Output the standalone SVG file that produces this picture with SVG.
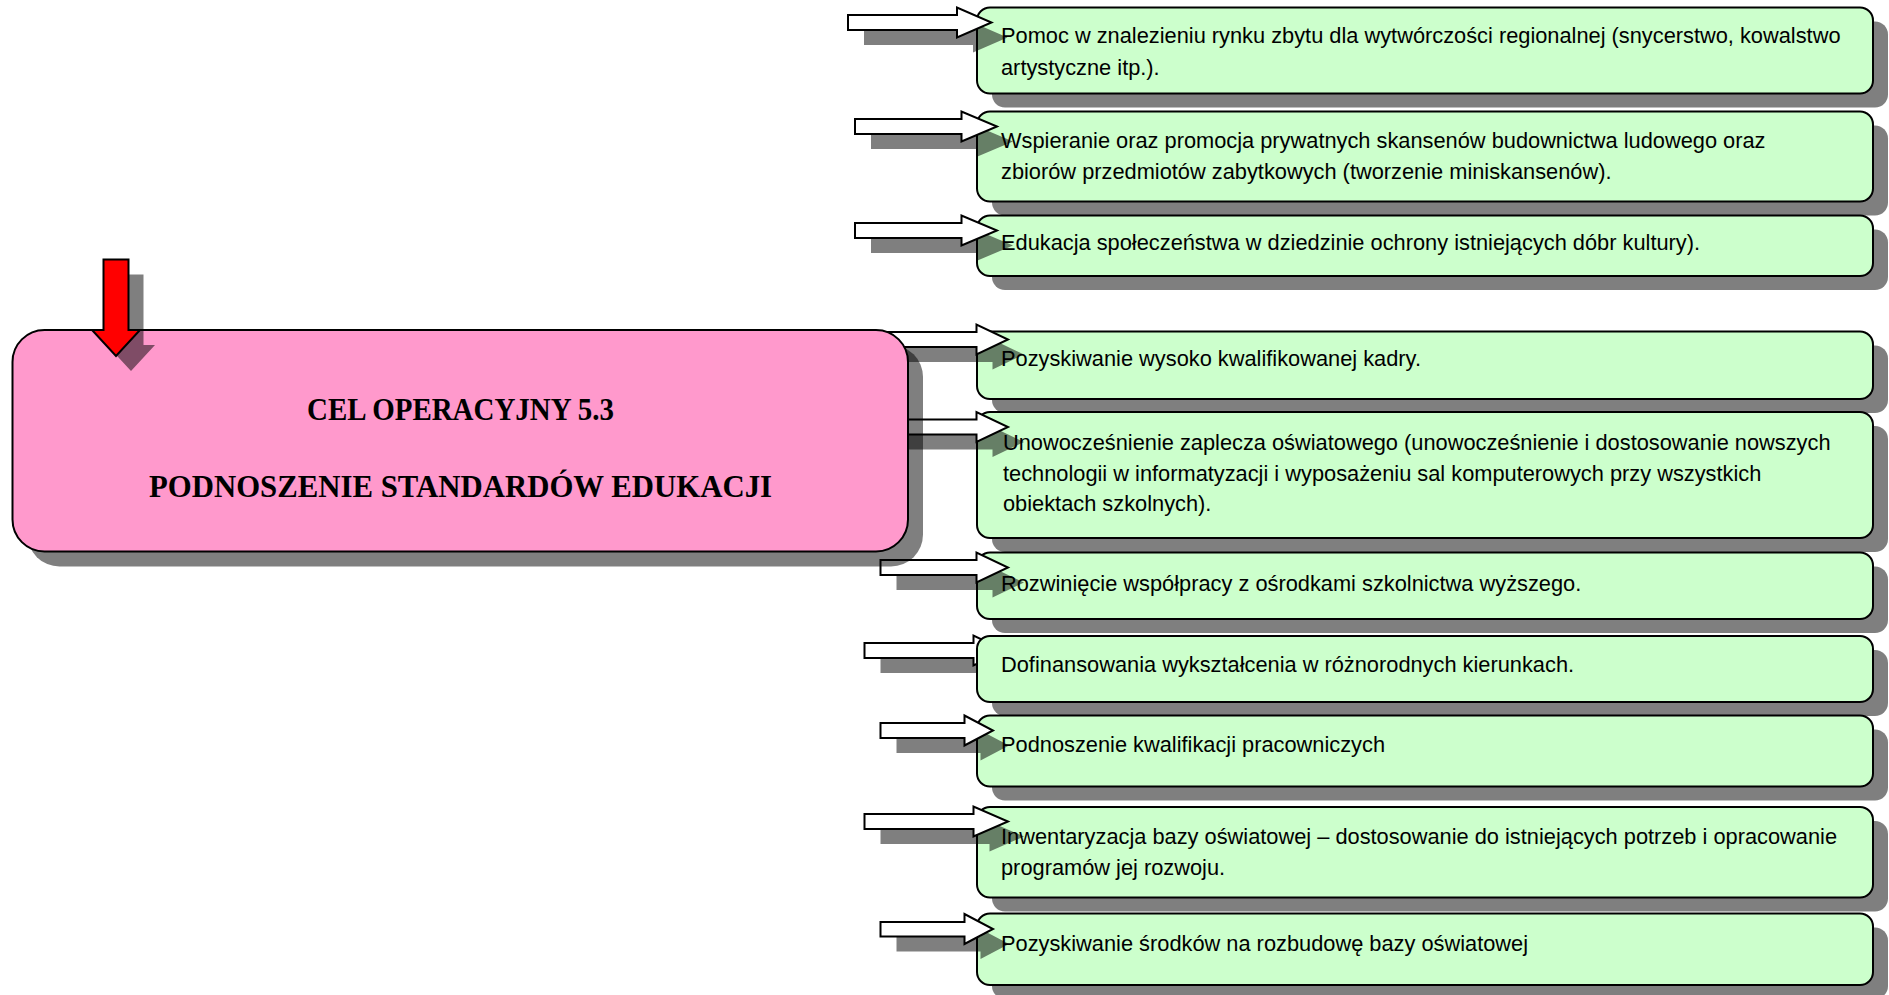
<svg xmlns="http://www.w3.org/2000/svg" xmlns:xlink="http://www.w3.org/1999/xlink" width="1889" height="995" viewBox="0 0 1889 995">
<style>
.sh{fill:#000;fill-opacity:0.5;stroke:none}
.gbox{fill:#CCFFCC;stroke:#000;stroke-width:2}
.pbox{fill:#FF99CC;stroke:#000;stroke-width:2}
.arrow{fill:#FFFFFF;stroke:#000;stroke-width:2;stroke-linejoin:miter}
.red{fill:#FF0000;stroke:#000;stroke-width:2}
.t{font-family:"Liberation Sans",Arial,sans-serif;font-size:21.8px;fill:#000}
.pt{font-family:"Liberation Serif","Times New Roman",serif;font-size:30.5px;font-weight:bold;fill:#000;text-anchor:middle}
</style>
<defs>
<polygon id="p1" points="848,15 957,15 957,7.5 991.5,22.5 957,37.5 957,30 848,30"/>
<polygon id="p2" points="855,119 961.5,119 961.5,111.5 997,126.5 961.5,141.5 961.5,134 855,134"/>
<polygon id="p3" points="855,223 961.5,223 961.5,215.5 997,230.5 961.5,245.5 961.5,238 855,238"/>
<polygon id="p4" points="870,332 976.5,332 976.5,324.5 1008,339.5 976.5,354.5 976.5,347 870,347"/>
<polygon id="p5" points="870,419.5 976.5,419.5 976.5,412 1008,427 976.5,442 976.5,434.5 870,434.5"/>
<polygon id="p6" points="880.5,560 976.5,560 976.5,552.5 1008,567.5 976.5,582.5 976.5,575 880.5,575"/>
<polygon id="p7" points="864.5,643 973.5,643 973.5,635.5 1005,650.5 973.5,665.5 973.5,658 864.5,658"/>
<polygon id="p8" points="880.5,723 964.5,723 964.5,715.5 993,730.5 964.5,745.5 964.5,738 880.5,738"/>
<polygon id="p9" points="864.5,814 973.5,814 973.5,806.5 1008,821.5 973.5,836.5 973.5,829 864.5,829"/>
<polygon id="p10" points="880.5,922 964.5,922 964.5,914 993,929 964.5,944 964.5,936.5 880.5,936.5"/>
</defs>

<g id="n1">
<rect class="sh" x="992" y="21.5" width="896" height="86" rx="13"/>
<rect class="gbox" x="977" y="7.5" width="896" height="86" rx="13"/>
<text class="t" x="1001" y="43">Pomoc w znalezieniu rynku zbytu dla wytwórczości regionalnej (snycerstwo, kowalstwo</text>
<text class="t" x="1001" y="74.5">artystyczne itp.).</text>
</g>
<g id="n2">
<rect class="sh" x="992" y="125.5" width="896" height="90" rx="13"/>
<rect class="gbox" x="977" y="111.5" width="896" height="90" rx="13"/>
<text class="t" x="1001" y="148">Wspieranie oraz promocja prywatnych skansenów budownictwa ludowego oraz</text>
<text class="t" x="1001" y="178.5">zbiorów przedmiotów zabytkowych (tworzenie miniskansenów).</text>
</g>
<g id="n3">
<rect class="sh" x="992" y="229.5" width="896" height="60.5" rx="13"/>
<rect class="gbox" x="977" y="215.5" width="896" height="60.5" rx="13"/>
<text class="t" x="1001" y="250">Edukacja społeczeństwa w dziedzinie ochrony istniejących dóbr kultury).</text>
</g>
<g id="n4">
<rect class="sh" x="992" y="345.5" width="896" height="67.5" rx="13"/>
<rect class="gbox" x="977" y="331.5" width="896" height="67.5" rx="13"/>
<text class="t" x="1001" y="366">Pozyskiwanie wysoko kwalifikowanej kadry.</text>
</g>
<g id="n5">
<rect class="sh" x="992" y="426" width="896" height="126" rx="13"/>
<rect class="gbox" x="977" y="412" width="896" height="126" rx="13"/>
<text class="t" x="1003" y="450">Unowocześnienie zaplecza oświatowego (unowocześnienie i dostosowanie nowszych</text>
<text class="t" x="1003" y="480.5">technologii w informatyzacji i wyposażeniu sal komputerowych przy wszystkich</text>
<text class="t" x="1003" y="510.5">obiektach szkolnych).</text>
</g>
<g id="n6">
<rect class="sh" x="992" y="566.5" width="896" height="66.5" rx="13"/>
<rect class="gbox" x="977" y="552.5" width="896" height="66.5" rx="13"/>
<text class="t" x="1001" y="590.5">Rozwinięcie współpracy z ośrodkami szkolnictwa wyższego.</text>
</g>
<g id="n8">
<rect class="sh" x="992" y="729.5" width="896" height="71" rx="13"/>
<rect class="gbox" x="977" y="715.5" width="896" height="71" rx="13"/>
<text class="t" x="1001" y="752">Podnoszenie kwalifikacji pracowniczych</text>
</g>
<g id="n9">
<rect class="sh" x="992" y="821" width="896" height="90.5" rx="13"/>
<rect class="gbox" x="977" y="807" width="896" height="90.5" rx="13"/>
<text class="t" x="1001" y="844">Inwentaryzacja bazy oświatowej – dostosowanie do istniejących potrzeb i opracowanie</text>
<text class="t" x="1001" y="874.5">programów jej rozwoju.</text>
</g>
<g id="n10">
<rect class="sh" x="992" y="927.5" width="896" height="71.5" rx="13"/>
<rect class="gbox" x="977" y="913.5" width="896" height="71.5" rx="13"/>
<text class="t" x="1001" y="951">Pozyskiwanie środków na rozbudowę bazy oświatowej</text>
</g>

<g id="connectors">
<use xlink:href="#p1" class="sh" transform="translate(16,15)"/>
<use xlink:href="#p1" class="arrow"/>
<use xlink:href="#p2" class="sh" transform="translate(16,15)"/>
<use xlink:href="#p2" class="arrow"/>
<use xlink:href="#p3" class="sh" transform="translate(16,15)"/>
<use xlink:href="#p3" class="arrow"/>
<use xlink:href="#p4" class="sh" transform="translate(16,15)"/>
<use xlink:href="#p4" class="arrow"/>
<use xlink:href="#p5" class="sh" transform="translate(16,15)"/>
<use xlink:href="#p5" class="arrow"/>
<use xlink:href="#p6" class="sh" transform="translate(16,15)"/>
<use xlink:href="#p6" class="arrow"/>
<use xlink:href="#p7" class="sh" transform="translate(16,15)"/>
<use xlink:href="#p7" class="arrow"/>
<use xlink:href="#p8" class="sh" transform="translate(16,15)"/>
<use xlink:href="#p8" class="arrow"/>
<use xlink:href="#p9" class="sh" transform="translate(16,15)"/>
<use xlink:href="#p9" class="arrow"/>
<use xlink:href="#p10" class="sh" transform="translate(16,15)"/>
<use xlink:href="#p10" class="arrow"/>
</g>

<g id="n7">
<rect class="sh" x="992" y="650" width="896" height="66" rx="13"/>
<rect class="gbox" x="977" y="636" width="896" height="66" rx="13"/>
<text class="t" x="1001" y="672">Dofinansowania wykształcenia w różnorodnych kierunkach.</text>
</g>

<g id="main">
<rect class="sh" x="27.5" y="345" width="895.5" height="221.5" rx="32"/>
<rect class="pbox" x="12.5" y="330" width="895.5" height="221.5" rx="32"/>
<text class="pt" x="460.5" y="419.5" textLength="307" lengthAdjust="spacingAndGlyphs">CEL OPERACYJNY 5.3</text>
<text class="pt" x="460.5" y="496.5" textLength="623" lengthAdjust="spacingAndGlyphs">PODNOSZENIE STANDARDÓW EDUKACJI</text>
</g>

<g id="start-arrow">
<polygon class="sh" transform="translate(15,15)" points="103.5,259.5 128.5,259.5 128.5,330 140,330 116,356 92,330 103.5,330"/>
<polygon class="red" points="103.5,259.5 128.5,259.5 128.5,330 140,330 116,356 92,330 103.5,330"/>
</g>
</svg>
